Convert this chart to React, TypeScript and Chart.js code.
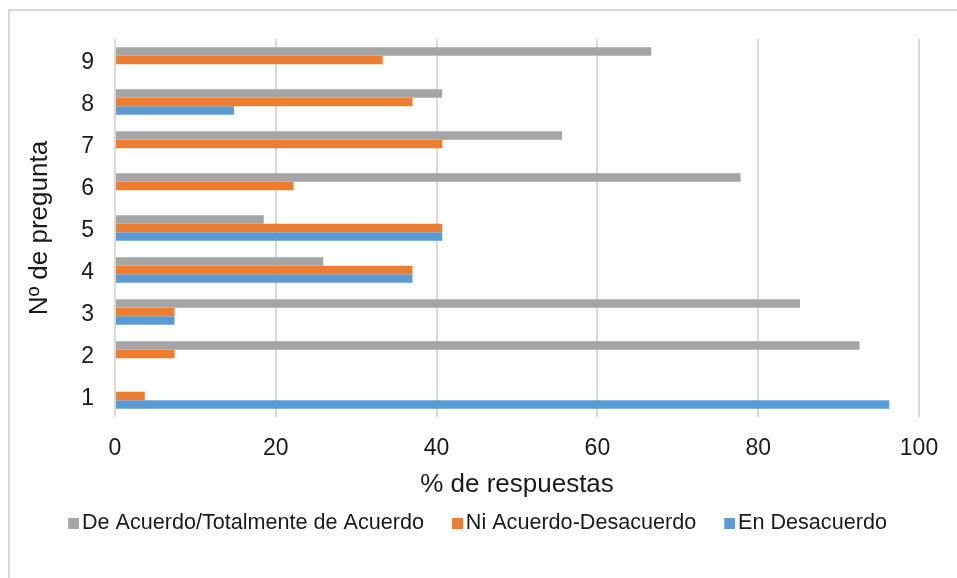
import React, { useEffect, useRef } from "react";
import { Chart, registerables } from "chart.js";

Chart.register(...registerables);

const categories = ["1", "2", "3", "4", "5", "6", "7", "8", "9"];
const deAcuerdo = [0, 92.6, 85.2, 25.9, 18.5, 77.8, 55.6, 40.7, 66.7];
const niAcuerdo = [3.7, 7.4, 7.4, 37.0, 40.7, 22.2, 40.7, 37.0, 33.3];
const enDesacuerdo = [96.3, 0, 7.4, 37.0, 40.7, 0, 0, 14.8, 0];
const seriesNames = [
  "De Acuerdo/Totalmente de Acuerdo",
  "Ni Acuerdo-Desacuerdo",
  "En Desacuerdo",
];
const seriesColors = ["#A5A5A5", "#ED7D31", "#5B9BD5"];
const xTicks = [0, 20, 40, 60, 80, 100];
const xTitle = "% de respuestas";
const yTitle = "Nº de pregunta";

const FONT = "'Liberation Sans', Arial, Helvetica, sans-serif";

function makeSwatch(color: string): HTMLCanvasElement {
  const c = document.createElement("canvas");
  c.width = 17;
  c.height = 11;
  const ctx = c.getContext("2d");
  if (ctx) {
    ctx.fillStyle = color;
    ctx.fillRect(6, 0, 11, 11);
  }
  return c;
}

export default function App() {
  const ref = useRef<HTMLCanvasElement | null>(null);

  useEffect(() => {
    const canvas = ref.current;
    if (!canvas) return;
    const swatches = seriesColors.map(makeSwatch);
    const chart = new Chart(canvas, {
      type: "bar",
      data: {
        labels: categories,
        datasets: [
          { label: seriesNames[0], data: deAcuerdo, backgroundColor: seriesColors[0], borderWidth: 0 },
          { label: seriesNames[1], data: niAcuerdo, backgroundColor: seriesColors[1], borderWidth: 0 },
          { label: seriesNames[2], data: enDesacuerdo, backgroundColor: seriesColors[2], borderWidth: 0 },
        ],
      },
      options: {
        indexAxis: "y",
        responsive: false,
        animation: false,
        layout: { padding: { left: 30, right: 30, top: 39, bottom: 34.2 } },
        datasets: { bar: { categoryPercentage: 0.61, barPercentage: 1.0 } },
        scales: {
          x: {
            type: "linear",
            min: 0,
            max: 100,
            afterBuildTicks: (scale: any) => {
              scale.ticks = xTicks.map((v) => ({ value: v }));
            },
            afterFit: (scale: any) => {
              scale.height = 65.2;
            },
            grid: { display: true, color: "#d9d9d9", lineWidth: 2, drawTicks: false },
            border: { display: false },
            ticks: {
              padding: 17.5,
              color: "#1a1a1a",
              font: { family: FONT, size: 23 },
              maxRotation: 0,
            },
            title: {
              display: true,
              text: xTitle,
              color: "#1a1a1a",
              font: { family: FONT, size: 26 },
              padding: { top: 0, bottom: -18.4 },
            },
          },
          y: {
            type: "category",
            reverse: true,
            afterFit: (scale: any) => {
              scale.width = 85;
            },
            grid: { display: false, drawTicks: false },
            border: { display: false },
            ticks: {
              padding: 21,
              labelOffset: 2.5,
              color: "#1a1a1a",
              font: { family: FONT, size: 23 },
            },
            title: {
              display: true,
              text: yTitle,
              color: "#1a1a1a",
              font: { family: FONT, size: 26 },
              padding: { top: -6, bottom: 0 },
            },
          },
          yRight: {
            type: "category",
            position: "right",
            display: true,
            afterFit: (scale: any) => {
              scale.width = 8;
            },
            grid: { display: false, drawTicks: false },
            border: { display: false },
            ticks: { display: false },
          },
        },
        plugins: {
          legend: {
            display: true,
            position: "bottom",
            labels: {
              usePointStyle: true,
              boxWidth: 1,
              boxHeight: 11,
              padding: 30,
              color: "#1a1a1a",
              font: { family: FONT, size: 21.6 },
              generateLabels: (ch: any) =>
                Chart.defaults.plugins.legend.labels
                  .generateLabels(ch)
                  .map((item: any, i: number) => ({ ...item, pointStyle: swatches[i] })),
            },
          },
          tooltip: { enabled: false },
        },
      },
    });
    return () => chart.destroy();
  }, []);

  return (
    <div style={{ position: "absolute", left: 0, top: 0, width: 957, height: 578, background: "#fff", overflow: "hidden" }}>
      <div
        style={{
          position: "absolute",
          left: 8,
          top: 9,
          width: 949,
          height: 569,
          boxSizing: "border-box",
          borderTop: "2px solid #d9d9d9",
          borderLeft: "2px solid #d9d9d9",
        }}
      />
      <canvas ref={ref} width={957} height={578} style={{ position: "absolute", left: 0, top: 0 }} />
    </div>
  );
}
